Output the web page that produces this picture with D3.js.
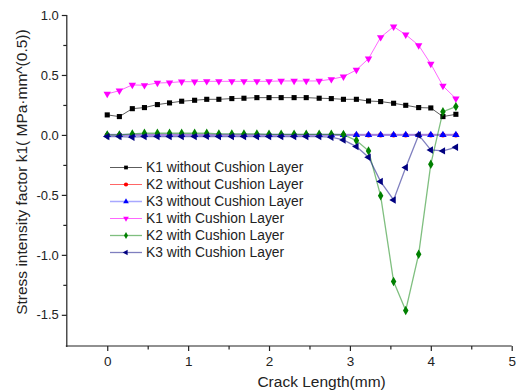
<!DOCTYPE html>
<html><head><meta charset="utf-8">
<script src="https://cdn.jsdelivr.net/npm/d3@7"></script>
<style>body{margin:0;background:#fff}svg{display:block}text{font-family:"Liberation Sans",Arial,sans-serif;fill:#222}</style>
</head><body><svg id="c" width="516" height="391"></svg>
<script>
const crackLength = [0, 0.15, 0.31, 0.46, 0.62, 0.77, 0.92, 1.08, 1.23, 1.38, 1.54, 1.69, 1.85, 2.0, 2.15, 2.31, 2.46, 2.62, 2.77, 2.92, 3.08, 3.23, 3.38, 3.54, 3.69, 3.85, 4.0, 4.15, 4.31];
const k1Without = [0.167, 0.153, 0.219, 0.228, 0.253, 0.267, 0.281, 0.289, 0.297, 0.297, 0.303, 0.306, 0.311, 0.311, 0.311, 0.311, 0.311, 0.306, 0.303, 0.297, 0.297, 0.283, 0.278, 0.264, 0.247, 0.228, 0.225, 0.153, 0.172];
const k2Without = [0, 0, 0, 0, 0, 0, 0, 0, 0, 0, 0, 0, 0, 0, 0, 0, 0, 0, 0, 0, 0, 0, 0, 0, 0, 0, 0, 0, 0];
const k3Without = [0, 0, 0, 0, 0, 0, 0, 0, 0, 0, 0, 0, 0, 0, 0, 0, 0, 0, 0, 0, 0, 0, 0, 0, 0, 0, 0, 0, 0];
const k1With = [0.342, 0.369, 0.417, 0.414, 0.433, 0.436, 0.444, 0.444, 0.447, 0.447, 0.447, 0.447, 0.447, 0.447, 0.45, 0.45, 0.45, 0.45, 0.464, 0.486, 0.542, 0.636, 0.814, 0.903, 0.836, 0.747, 0.592, 0.408, 0.303];
const k2With = [0, 0, 0.008, 0.014, 0.014, 0.014, 0.014, 0.014, 0.014, 0.008, 0.008, 0.008, 0.008, 0.005, 0.005, 0.005, 0.005, 0.005, 0.005, 0.003, -0.047, -0.133, -0.508, -1.222, -1.464, -0.994, -0.244, 0.194, 0.236];
const k3With = [-0.014, -0.014, -0.019, -0.014, -0.014, -0.014, -0.014, -0.014, -0.012, -0.014, -0.014, -0.014, -0.014, -0.014, -0.014, -0.014, -0.014, -0.014, -0.019, -0.042, -0.097, -0.186, -0.389, -0.542, -0.272, 0.0, -0.125, -0.133, -0.103];
const seriesNames = ["K1 without Cushion Layer", "K2 without Cushion Layer", "K3 without Cushion Layer", "K1 with Cushion Layer", "K2 with Cushion Layer", "K3 with Cushion Layer"];
const xTicks = [0, 1, 2, 3, 4, 5];
const yTicks = [-1.5, -1.0, -0.5, 0.0, 0.5, 1.0];
const xTitle = "Crack Length(mm)";
const yTitle = "Stress intensity factor k1( MPa·mm^(0.5))";

const seriesValues = [k1Without, k2Without, k3Without, k1With, k2With, k3With];
const styles = [
  {mark:"#000000", line:"#333333", lo:0.8, sym:d3.symbolSquare, size:26, rot:0, lw:1},
  {mark:"#ff0000", line:"#ff0000", lo:0.6, sym:d3.symbolCircle, size:20, rot:0, lw:1},
  {mark:"#0000ff", line:"#6060ff", lo:0.55, sym:d3.symbolTriangle, size:24, rot:0, lw:2.2},
  {mark:"#ff00ff", line:"#ff00ff", lo:0.6, sym:d3.symbolTriangle, size:24, rot:180, lw:1},
  {mark:"#008000", line:"#008000", lo:0.5, sym:d3.symbolDiamond, size:26, rot:0, lw:1.3},
  {mark:"#000080", line:"#000080", lo:0.5, sym:d3.symbolTriangle, size:24, rot:-90, lw:1.3}
];

const svg = d3.select("#c");
const x = d3.scaleLinear().domain([-0.5, 5]).range([66.8, 511.7]);
const y = d3.scaleLinear().domain([-1.76, 1.0]).range([346, 15]);
const locale = d3.formatLocale({decimal: ".", thousands: ",", grouping: [3], currency: ["", ""], minus: "-"});

// axes
const xAxis = d3.axisBottom(x).tickValues(d3.range(-0.5, 5.01, 0.5)).tickSize(4)
  .tickFormat(d => xTicks.includes(d) ? locale.format("d")(d) : "");
const gx = svg.append("g").attr("transform", "translate(0,346)").call(xAxis);
gx.selectAll(".tick line").attr("y2", d => xTicks.includes(d) ? 5 : 3.5);
gx.selectAll(".tick").filter(d => d === -0.5).select("line").remove();
gx.select(".domain").attr("d", `M${x(-0.5)-1},0H${x(5)}`);
gx.selectAll("text").attr("font-size", 13.5).attr("dy", "0.95em");

const yAxis = d3.axisLeft(y).tickValues(d3.range(-1.5, 1.01, 0.25)).tickSize(4)
  .tickFormat(d => yTicks.some(t => Math.abs(t - d) < 1e-9) ? locale.format(".1f")(d) : "");
const gy = svg.append("g").attr("transform", `translate(${x(-0.5)},0)`).call(yAxis);
gy.selectAll(".tick line").attr("x2", d => yTicks.some(t => Math.abs(t - d) < 1e-9) ? -5 : -3.5);
gy.select(".domain").attr("d", `M0,${y(1.0)}V${y(-1.76)+1}`);
gy.selectAll("text").attr("font-size", 13).attr("x", -8);
svg.selectAll(".domain, .tick line").attr("stroke", "#222").attr("stroke-width", 1.2);
svg.selectAll(".tick text").style("fill", "#222");

// titles
svg.append("text").attr("x", x(2.65)).attr("y", 387).attr("text-anchor", "middle").attr("font-size", 15.5).text(xTitle);
svg.append("text").attr("transform", `translate(27,${y(-0.31)}) rotate(-90)`).attr("text-anchor", "middle").attr("font-size", 15.5).text(yTitle);

// series
const line = d3.line().x((d, i) => x(crackLength[i])).y(d => y(d));
seriesValues.forEach((vals, si) => {
  const s = styles[si];
  const g = svg.append("g");
  g.append("path").attr("d", line(vals)).attr("fill", "none").attr("stroke", s.line)
    .attr("stroke-opacity", s.lo).attr("stroke-width", s.lw);
  g.selectAll("path.m").data(vals).join("path").attr("class", "m")
    .attr("d", d3.symbol().type(s.sym).size(s.size))
    .attr("transform", (d, i) => `translate(${x(crackLength[i])},${y(d)}) rotate(${s.rot})`)
    .attr("fill", s.mark);
});

// legend
const lg = svg.append("g");
seriesNames.forEach((name, i) => {
  const s = styles[i];
  const yy = 167.5 + i * 17;
  lg.append("line").attr("x1", 110).attr("x2", 142).attr("y1", yy).attr("y2", yy)
    .attr("stroke", s.line).attr("stroke-opacity", s.lo).attr("stroke-width", Math.min(s.lw, 1.5));
  lg.append("path").attr("d", d3.symbol().type(s.sym).size(14))
    .attr("transform", `translate(126,${yy}) rotate(${s.rot})`).attr("fill", s.mark);
  lg.append("text").attr("x", 146).attr("y", yy).attr("dy", "0.35em").attr("font-size", 13.8).text(name);
});
</script></body></html>
